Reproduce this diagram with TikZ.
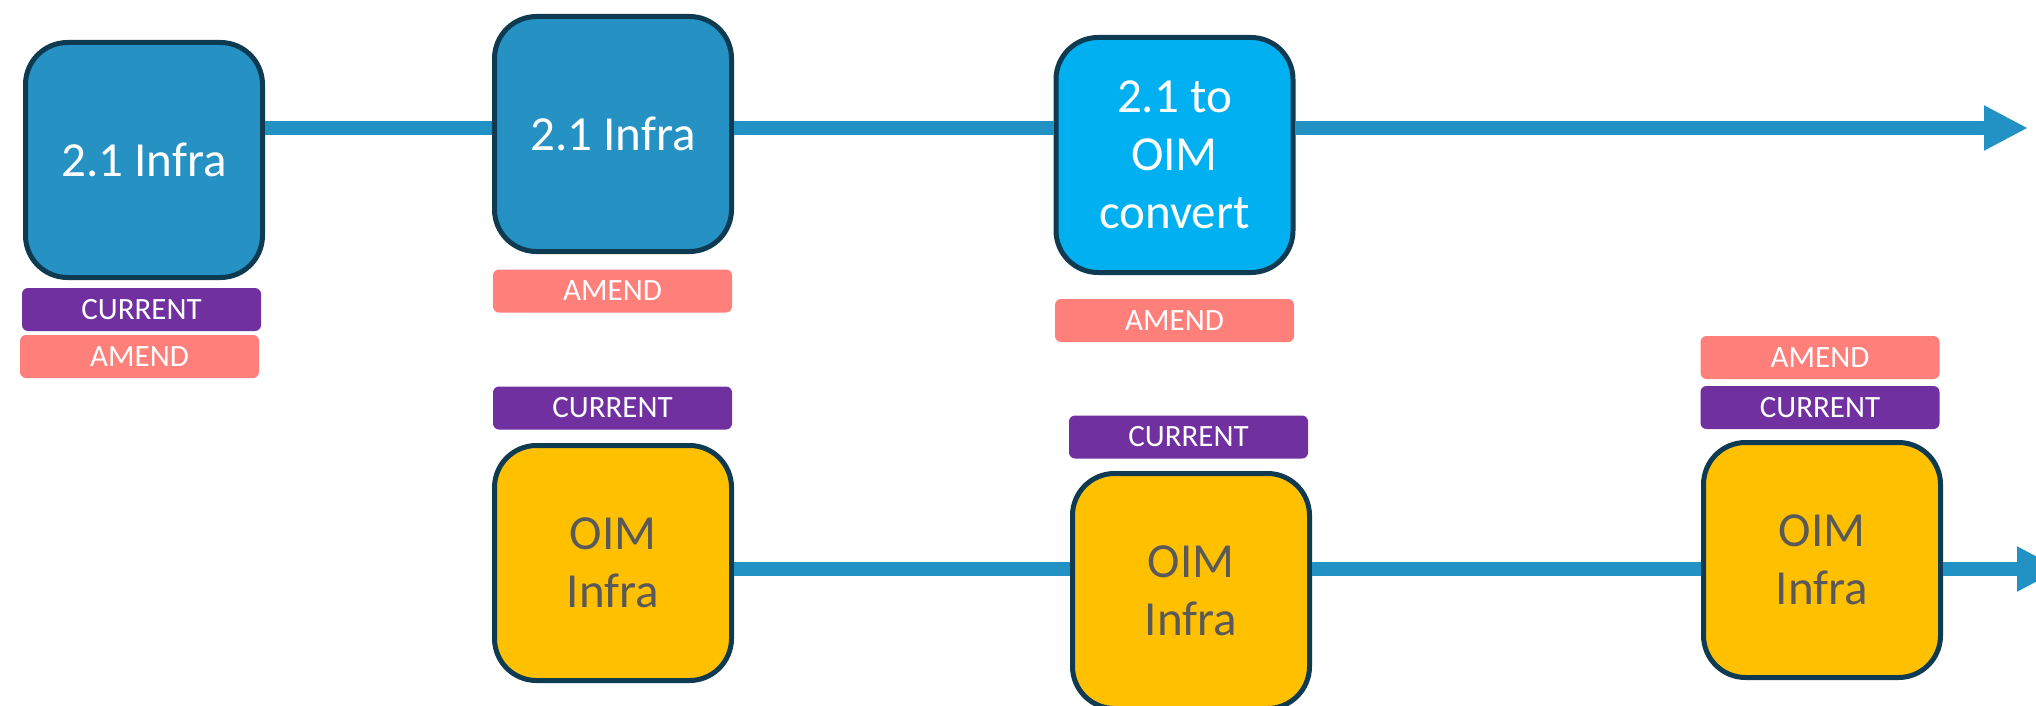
\documentclass[tikz,border=0pt]{standalone}
\usepackage{fontspec}
\setmainfont{Carlito}
\usetikzlibrary{arrows.meta}
\definecolor{boxblue}{HTML}{2692C4}
\definecolor{lightblue}{HTML}{00B0F0}
\definecolor{edgedark}{HTML}{0E3B52}
\definecolor{flowblue}{HTML}{2292C4}
\definecolor{oimyellow}{HTML}{FFC000}
\definecolor{oimtext}{HTML}{595959}
\definecolor{curpurple}{HTML}{7030A0}
\definecolor{amendsalmon}{HTML}{FF7F7A}
\tikzset{
  bigbox/.style={draw=edgedark, line width=5pt, rounded corners=42pt,
    minimum width=237pt, minimum height=235pt, inner sep=0pt, align=center,
    font=\fontsize{49}{58}\selectfont},
  infrabox/.style={bigbox, fill=boxblue, text=white},
  convbox/.style={bigbox, fill=lightblue, text=white},
  oimbox/.style={bigbox, fill=oimyellow, text=oimtext},
  tagbox/.style={rounded corners=6pt, minimum width=239pt, minimum height=43pt,
    inner sep=0pt, text=white, font=\fontsize{31}{36}\selectfont},
  curtag/.style={tagbox, fill=curpurple},
  amendtag/.style={tagbox, fill=amendsalmon},
  flow/.style={draw=flowblue, line width=14pt},
}
\begin{document}
\begin{tikzpicture}[x=1pt, y=-1pt]
\useasboundingbox (0,0) rectangle (2036,706);
\clip (0,0) rectangle (2036,706);
\fill[white] (0,0) rectangle (2036,706);
\coordinate (tl) at (0,128);
\coordinate (bl) at (0,569);
\coordinate (tend) at (2028,128);
\coordinate (bend) at (2061,569);
% top row
\node[infrabox] (b1) at (144,160) {2.1 Infra};
\node[infrabox] (b2) at (613,134) {2.1 Infra};
\node[convbox] (b3) at (1174.5,155) {2.1 to\\OIM\\convert};
\node[curtag] (c1) at (141.5,309.5) {CURRENT};
\node[amendtag] (a1) at (139.5,356.5) {AMEND};
\node[amendtag] (a2) at (612.5,291) {AMEND};
\node[amendtag] (a3) at (1174.5,320.5) {AMEND};
% bottom row
\node[oimbox] (o1) at (613,563) {OIM\\Infra};
\node[oimbox] (o2) at (1191,591) {OIM\\Infra};
\node[oimbox] (o3) at (1822,560) {OIM\\Infra};
\node[curtag] (c2) at (612.5,408) {CURRENT};
\node[curtag] (c3) at (1188.5,437) {CURRENT};
\node[amendtag] (a4) at (1820,357.5) {AMEND};
\node[curtag] (c4) at (1820,407.5) {CURRENT};
% connectors
\draw[flow] (b1.east |- tl) -- (b2.west |- tl);
\draw[flow] (b2.east |- tl) -- (b3.west |- tl);
\draw[flow, -{Triangle[length=44pt, width=42pt]}] (b3.east |- tl) -- (tend);
\draw[flow] (o1.east |- bl) -- (o2.west |- bl);
\draw[flow] (o2.east |- bl) -- (o3.west |- bl);
\draw[flow, -{Triangle[length=44pt, width=42pt]}] (o3.east |- bl) -- (bend);
\end{tikzpicture}
\end{document}
